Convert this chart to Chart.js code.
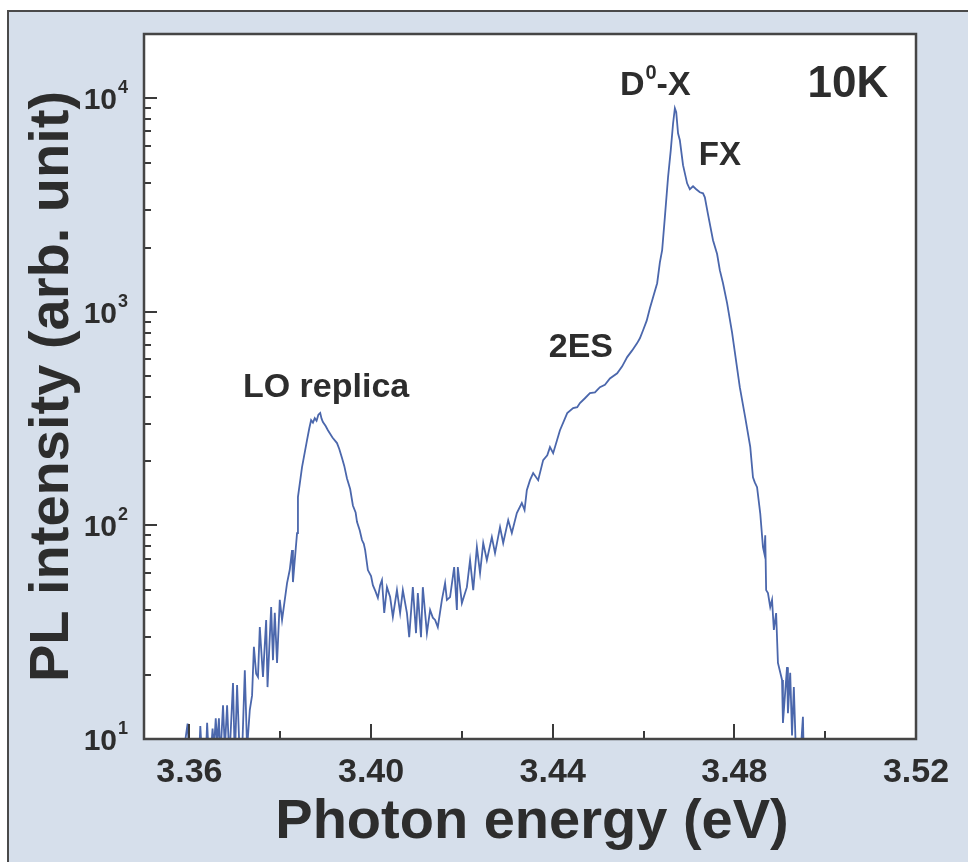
<!DOCTYPE html>
<html>
<head>
<meta charset="utf-8">
<script src="https://cdn.jsdelivr.net/npm/chart.js@4.4.1/dist/chart.umd.min.js"></script>
<style>
    html, body { margin: 0; padding: 0; background: #fff; }
    #wrap { width: 968px; height: 862px; }
</style>
</head>
<body>
<div id="wrap"><canvas id="pl" width="968" height="862"></canvas></div>
<script>
// PL spectrum (10 K)
const energy = [
    3.3585, 3.3596, 3.3600, 3.3621, 3.3624, 3.3628, 3.3636, 3.3639, 3.3643, 3.3648,
    3.3651, 3.3654, 3.3658, 3.3661, 3.3665, 3.3668, 3.3674, 3.3678, 3.3683, 3.3688,
    3.3696, 3.3700, 3.3705, 3.3711, 3.3716, 3.3722, 3.3727, 3.3733, 3.3738, 3.3742,
    3.3747, 3.3751, 3.3755, 3.3762, 3.3769, 3.3772, 3.3780, 3.3784, 3.3788, 3.3793,
    3.3799, 3.3804, 3.3815, 3.3821, 3.3826, 3.3828, 3.3837, 3.3839, 3.3848, 3.3859,
    3.3864, 3.3868, 3.3872, 3.3876, 3.3880, 3.3884, 3.3888, 3.3891, 3.3894, 3.3900,
    3.3905, 3.3915, 3.3925, 3.3930, 3.3936, 3.3941, 3.3947, 3.3954, 3.3960, 3.3966,
    3.3969, 3.3975, 3.3980, 3.3984, 3.3987, 3.3993, 3.4000, 3.4004, 3.4010, 3.4015,
    3.4020, 3.4024, 3.4029, 3.4035, 3.4042, 3.4048, 3.4057, 3.4064, 3.4070, 3.4079,
    3.4084, 3.4092, 3.4099, 3.4103, 3.4110, 3.4114, 3.4123, 3.4130, 3.4136, 3.4141,
    3.4147, 3.4156, 3.4163, 3.4167, 3.4174, 3.4183, 3.4189, 3.4191, 3.4200, 3.4211,
    3.4218, 3.4225, 3.4233, 3.4240, 3.4247, 3.4255, 3.4266, 3.4273, 3.4284, 3.4291,
    3.4302, 3.4310, 3.4321, 3.4332, 3.4338, 3.4343, 3.4350, 3.4357, 3.4368, 3.4379,
    3.4388, 3.4394, 3.4401, 3.4416, 3.4432, 3.4445, 3.4454, 3.4460, 3.4471, 3.4482,
    3.4493, 3.4504, 3.4515, 3.4526, 3.4542, 3.4553, 3.4564, 3.4575, 3.4586, 3.4592,
    3.4599, 3.4607, 3.4614, 3.4622, 3.4630, 3.4636, 3.4641, 3.4647, 3.4654, 3.4660,
    3.4665, 3.4669, 3.4672, 3.4676, 3.4680, 3.4687, 3.4696, 3.4702, 3.4709, 3.4716,
    3.4724, 3.4731, 3.4735, 3.4742, 3.4753, 3.4762, 3.4768, 3.4775, 3.4784, 3.4795,
    3.4808, 3.4812, 3.4824, 3.4835, 3.4841, 3.4845, 3.4850, 3.4857, 3.4863, 3.4866,
    3.4868, 3.4870, 3.4874, 3.4879, 3.4883, 3.4887, 3.4892, 3.4896, 3.4905, 3.4907,
    3.4916, 3.4918, 3.4923, 3.4927, 3.4931, 3.4936, 3.4945, 3.4951, 3.4953, 3.4970
];
const intensity = [
    8, 11.8, 8, 8, 11.5, 8, 8, 11.9, 8, 9,
    11.2, 9, 12.5, 9.5, 12.5, 8, 14.4, 9, 14.4, 8,
    18.3, 8, 17.9, 8, 8.5, 21.0, 9, 13.7, 16.0, 27.0,
    20.2, 19.5, 33.4, 19.5, 36.1, 17.5, 41.5, 23.4, 39.0, 22.7,
    44.8, 36.1, 53.7, 62.0, 76.7, 54.3, 92.0, 135.8, 187.5, 250.7,
    285, 311, 303, 318, 309, 330, 336, 316, 305, 292,
    279, 258, 243, 228, 207, 190, 166, 148, 124, 115,
    104, 95, 85.4, 82, 76.7, 61.8, 58.0, 52.5, 49.0, 45.8,
    52.5, 55.5, 38.9, 51.4, 46.2, 37.3, 49.8, 38.9, 49.8, 38.9,
    30.0, 51.4, 31.3, 48.2, 30.0, 51.4, 31.3, 40.2, 37.0, 36.1,
    33.4, 44.8, 53.7, 44.8, 46.2, 63.8, 40.2, 63.8, 43.3, 51.4,
    68.8, 49.8, 79.2, 59.8, 82.7, 68.8, 88.2, 74.2, 98.2, 82.7,
    105.9, 92.1, 114.2, 127.3, 118, 146.3, 162.9, 175.8, 162.9, 202.3,
    213, 232.6, 217.9, 279.2, 335.5, 354, 358, 374, 394, 416,
    420, 444, 456, 488, 516, 556, 614, 660, 714, 752,
    820, 910, 1040, 1190, 1362, 1705, 1944, 2775, 4269, 5720,
    7600, 8980, 8600, 6855, 6360, 4860, 3998, 3750, 3870, 3750,
    3630, 3590, 3440, 2860, 2166, 1866, 1568, 1362, 1098, 800,
    510, 444, 320, 233, 168, 159, 151, 114, 79.2, 74,
    90, 49.8, 48.2, 41.5, 44.8, 32.4, 38.9, 22.7, 18.9, 11.9,
    21.7, 13.2, 20.4, 10.4, 17.5, 8, 8, 12.7, 8, 8
];

const xTickValues = [3.36, 3.40, 3.44, 3.48, 3.52];
const xTickLabels = ['3.36', '3.40', '3.44', '3.48', '3.52'];
const xMinorValues = [3.38, 3.42, 3.46, 3.50];
const yTickValues = [10, 100, 1000, 10000];
const yTickExponents = ['1', '2', '3', '4'];

const xTitle = 'Photon energy (eV)';
const yTitle = 'PL intensity (arb. unit)';

// minor log ticks 2..9 in each decade
const yMinorValues = [];
yTickValues.forEach(d => {
    for (let m = 2; m <= 9; m++) yMinorValues.push(d * m);
});

const INK = '#2d2d2d';
const FONT = "'Liberation Sans', Arial, sans-serif";

// text annotations, anchored in data coordinates (x = centre, y = baseline)
const notes = [
    { text: 'LO replica', e: 3.3901, i: 399, size: 34 },
    { text: '2ES', e: 3.4462, i: 614, size: 34 },
    { text: 'FX', e: 3.4768, i: 4860, size: 33 },
    { text: '10K', e: 3.5050, i: 10100, size: 44 }
];

const figureDecor = {
    id: 'figureDecor',
    beforeDraw(chart) {
        const { ctx, chartArea: a, width, height } = chart;
        ctx.save();
        ctx.fillStyle = '#fff';
        ctx.fillRect(0, 0, width, height);
        ctx.fillStyle = '#d6dfeb';
        ctx.fillRect(8, 11, width - 8, height - 11);
        ctx.strokeStyle = '#4a4a4a';
        ctx.lineWidth = 2;
        ctx.beginPath();
        ctx.moveTo(8, height);
        ctx.lineTo(8, 11);
        ctx.lineTo(width, 11);
        ctx.stroke();
        ctx.fillStyle = '#fff';
        ctx.fillRect(a.left, a.top, a.width, a.height);
        ctx.restore();
    },
    afterDraw(chart) {
        const { ctx, chartArea: a } = chart;
        const xs = chart.scales.x;
        const ys = chart.scales.y;
        ctx.save();

        // inward tick marks
        ctx.strokeStyle = '#3a3a3a';
        ctx.lineWidth = 2;
        ctx.beginPath();
        xTickValues.forEach(v => {
            const px = Math.round(xs.getPixelForValue(v));
            ctx.moveTo(px, a.bottom); ctx.lineTo(px, a.bottom - 15);
        });
        xMinorValues.forEach(v => {
            const px = Math.round(xs.getPixelForValue(v));
            ctx.moveTo(px, a.bottom); ctx.lineTo(px, a.bottom - 8);
        });
        yTickValues.forEach(v => {
            const py = Math.round(ys.getPixelForValue(v));
            ctx.moveTo(a.left, py); ctx.lineTo(a.left + 13, py);
        });
        yMinorValues.forEach(v => {
            const py = Math.round(ys.getPixelForValue(v));
            if (py < a.top) return;
            ctx.moveTo(a.left, py); ctx.lineTo(a.left + 7, py);
        });
        ctx.stroke();

        // plot frame
        ctx.lineWidth = 2.5;
        ctx.strokeStyle = '#454545';
        ctx.strokeRect(a.left, a.top, a.width, a.height);

        ctx.fillStyle = INK;
        ctx.textBaseline = 'alphabetic';

        // x tick labels
        ctx.font = `bold 34px ${FONT}`;
        ctx.textAlign = 'center';
        xTickValues.forEach((v, k) => {
            ctx.fillText(xTickLabels[k], xs.getPixelForValue(v), a.bottom + 43);
        });

        // y tick labels 10^n
        yTickValues.forEach((v, k) => {
            const py = ys.getPixelForValue(v);
            ctx.font = `bold 30px ${FONT}`;
            ctx.textAlign = 'right';
            ctx.fillText('10', a.left - 27, py + 11);
            ctx.font = `bold 18px ${FONT}`;
            ctx.textAlign = 'left';
            ctx.fillText(yTickExponents[k], a.left - 26, py - 5);
        });

        // axis titles
        ctx.font = `bold 56px ${FONT}`;
        ctx.textAlign = 'center';
        ctx.fillText(xTitle, (a.left + a.right) / 2 + 2, a.bottom + 99);
        ctx.save();
        ctx.translate(68, (a.top + a.bottom) / 2);
        ctx.rotate(-Math.PI / 2);
        ctx.fillText(yTitle, 0, 0);
        ctx.restore();

        // annotations
        notes.forEach(n => {
            ctx.font = `bold ${n.size}px ${FONT}`;
            ctx.textAlign = 'center';
            ctx.fillText(n.text, xs.getPixelForValue(n.e), ys.getPixelForValue(n.i));
        });

        // D0-X with superscript
        let dx = xs.getPixelForValue(3.4548);
        const dy = ys.getPixelForValue(10330);
        ctx.textAlign = 'left';
        ctx.font = `bold 34px ${FONT}`;
        ctx.fillText('D', dx, dy);
        dx += ctx.measureText('D').width + 1;
        ctx.font = `bold 20px ${FONT}`;
        ctx.fillText('0', dx, dy - 16);
        dx += ctx.measureText('0').width;
        ctx.font = `bold 34px ${FONT}`;
        ctx.fillText('-X', dx, dy);

        ctx.restore();
    }
};

const points = energy.map((e, k) => ({ x: e, y: intensity[k] }));

new Chart(document.getElementById('pl'), {
    type: 'line',
    data: {
        datasets: [{
            data: points,
            borderColor: '#4b67ac',
            borderWidth: 1.8,
            pointRadius: 0,
            tension: 0,
            fill: false
        }]
    },
    options: {
        responsive: false,
        animation: false,
        layout: { padding: { top: 34, right: 52, left: 0, bottom: 0 } },
        plugins: { legend: { display: false }, tooltip: { enabled: false } },
        scales: {
            x: {
                type: 'linear',
                min: 3.35,
                max: 3.52,
                grid: { display: false, drawTicks: false },
                border: { display: false },
                ticks: { display: false },
                afterFit: s => { s.height = 123; }
            },
            y: {
                type: 'logarithmic',
                min: 10,
                max: 20000,
                grid: { display: false, drawTicks: false },
                border: { display: false },
                ticks: { display: false },
                afterFit: s => { s.width = 144; }
            }
        }
    },
    plugins: [figureDecor]
});
</script>
</body>
</html>
